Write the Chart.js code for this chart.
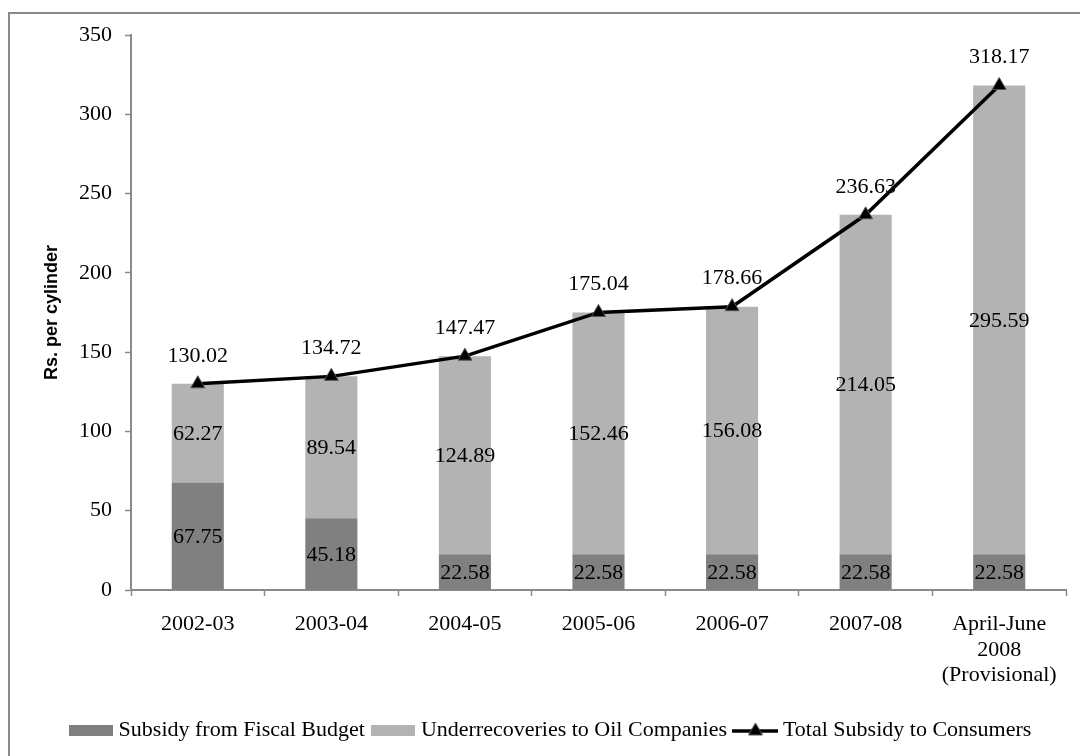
<!DOCTYPE html>
<html>
<head>
<meta charset="utf-8">
<title>LPG subsidy per cylinder</title>
<script src="https://cdn.jsdelivr.net/npm/chart.js@4/dist/chart.umd.min.js"></script>
<style>
  html, body { margin: 0; padding: 0; background: #ffffff; }
  #wrap { width: 1080px; height: 756px; position: relative; }
</style>
</head>
<body>
<div id="wrap"><canvas id="c" width="1080" height="756"></canvas></div>
<script>
// ---- data ----
const categories = ['2002-03', '2003-04', '2004-05', '2005-06', '2006-07', '2007-08',
  ['April-June', '2008', '(Provisional)']];
const fiscalBudget = [67.75, 45.18, 22.58, 22.58, 22.58, 22.58, 22.58];
const underrecoveries = [62.27, 89.54, 124.89, 152.46, 156.08, 214.05, 295.59];
const totalSubsidy = [130.02, 134.72, 147.47, 175.04, 178.66, 236.63, 318.17];
const seriesNames = ['Subsidy from Fiscal Budget', 'Underrecoveries to Oil Companies', 'Total Subsidy to Consumers'];
const yTicks = [0, 50, 100, 150, 200, 250, 300, 350];

const SERIF = "'Liberation Serif', 'Times New Roman', serif";
const DARK = '#808080';
const LIGHT = '#b3b3b3';
const AXIS = '#8a8a8a';

// legend swatches drawn on small canvases
function swatch(color) {
  const cv = document.createElement('canvas');
  cv.width = 44; cv.height = 11;
  const g = cv.getContext('2d');
  g.fillStyle = color;
  g.fillRect(0, 0, 44, 11);
  return cv;
}
function lineIcon() {
  const cv = document.createElement('canvas');
  cv.width = 46; cv.height = 18;
  const g = cv.getContext('2d');
  g.strokeStyle = '#000';
  g.lineWidth = 3.5;
  g.beginPath(); g.moveTo(0, 10); g.lineTo(46, 10); g.stroke();
  g.beginPath();
  g.moveTo(23, 2); g.lineTo(30, 14); g.lineTo(16, 14); g.closePath();
  g.fillStyle = '#000'; g.fill();
  g.lineWidth = 1; g.strokeStyle = '#555'; g.stroke();
  return cv;
}
const legendIcons = [swatch(DARK), swatch(LIGHT), lineIcon()];

// outer frame of the figure
const framePlugin = {
  id: 'frame',
  beforeDraw(chart) {
    const ctx = chart.ctx;
    ctx.save();
    ctx.fillStyle = '#ffffff';
    ctx.fillRect(0, 0, chart.width, chart.height);
    ctx.strokeStyle = AXIS;
    ctx.lineWidth = 2;
    ctx.strokeRect(9, 13, 1200, 1000);
    ctx.restore();
  }
};

// value labels: centred in bar segments, above the line points
const valueLabels = {
  id: 'valueLabels',
  afterDatasetsDraw(chart) {
    const ctx = chart.ctx;
    ctx.save();
    ctx.font = '22px ' + SERIF;
    ctx.fillStyle = '#000';
    ctx.textAlign = 'center';
    ctx.textBaseline = 'middle';
    chart.data.datasets.forEach((ds, di) => {
      const meta = chart.getDatasetMeta(di);
      meta.data.forEach((el, i) => {
        const v = ds.data[i];
        const txt = v.toFixed(2);
        if (ds.type === 'line') {
          ctx.fillText(txt, el.x, el.y - 28);
        } else {
          const p = el.getProps(['x', 'y', 'base'], true);
          ctx.fillText(txt, p.x, (p.y + p.base) / 2 + 1);
        }
      });
    });
    ctx.restore();
  }
};

new Chart(document.getElementById('c'), {
  data: {
    labels: categories,
    datasets: [
      {
        type: 'bar',
        label: seriesNames[0],
        data: fiscalBudget,
        backgroundColor: DARK,
        stack: 'bars',
        order: 1,
        barPercentage: 0.39,
        categoryPercentage: 1.0
      },
      {
        type: 'bar',
        label: seriesNames[1],
        data: underrecoveries,
        backgroundColor: LIGHT,
        stack: 'bars',
        order: 1,
        barPercentage: 0.39,
        categoryPercentage: 1.0
      },
      {
        type: 'line',
        label: seriesNames[2],
        data: totalSubsidy,
        stack: 'line',
        order: 0,
        borderColor: '#000',
        borderWidth: 3.5,
        tension: 0,
        pointStyle: 'triangle',
        pointRadius: 8,
        pointBackgroundColor: '#000',
        pointBorderColor: '#555',
        pointBorderWidth: 1
      }
    ]
  },
  options: {
    responsive: false,
    animation: false,
    devicePixelRatio: 1,
    layout: { padding: { left: 40, right: 14, top: 35, bottom: 5 } },
    plugins: {
      tooltip: { enabled: false },
      legend: {
        position: 'bottom',
        labels: {
          font: { family: SERIF, size: 22 },
          color: '#000',
          usePointStyle: true,
          pointStyleWidth: 33,
          padding: 12,
          sort: (a, b) => a.datasetIndex - b.datasetIndex,
          generateLabels(chart) {
            const items = Chart.defaults.plugins.legend.labels.generateLabels(chart);
            items.forEach(it => { it.pointStyle = legendIcons[it.datasetIndex]; });
            return items;
          }
        }
      }
    },
    scales: {
      x: {
        stacked: true,
        offset: true,
        grid: {
          display: true,
          offset: true,
          drawOnChartArea: false,
          drawTicks: true,
          tickLength: 6,
          tickWidth: 1.5,
          tickColor: AXIS
        },
        border: { display: true, color: AXIS, width: 2 },
        ticks: {
          color: '#000',
          font: { family: SERIF, size: 22, lineHeight: 1.15 },
          padding: 16,
          maxRotation: 0,
          autoSkip: false
        },
        afterFit(scale) { scale.height = 117; }
      },
      y: {
        stacked: true,
        min: 0,
        max: 350,
        afterBuildTicks(scale) { scale.ticks = yTicks.map(v => ({ value: v })); },
        grid: {
          display: true,
          drawOnChartArea: false,
          drawTicks: true,
          tickLength: 6,
          tickWidth: 1.5,
          tickColor: AXIS
        },
        border: { display: true, color: AXIS, width: 2 },
        ticks: {
          color: '#000',
          font: { family: SERIF, size: 22 },
          padding: 13
        },
        title: {
          display: true,
          text: 'Rs. per cylinder',
          color: '#000',
          font: { family: "'Liberation Sans', Arial, sans-serif", size: 18, weight: 'bold' },
          padding: { top: 1, bottom: 0 }
        },
        afterFit(scale) { scale.width = 91; }
      }
    }
  },
  plugins: [framePlugin, valueLabels]
});
</script>
</body>
</html>
